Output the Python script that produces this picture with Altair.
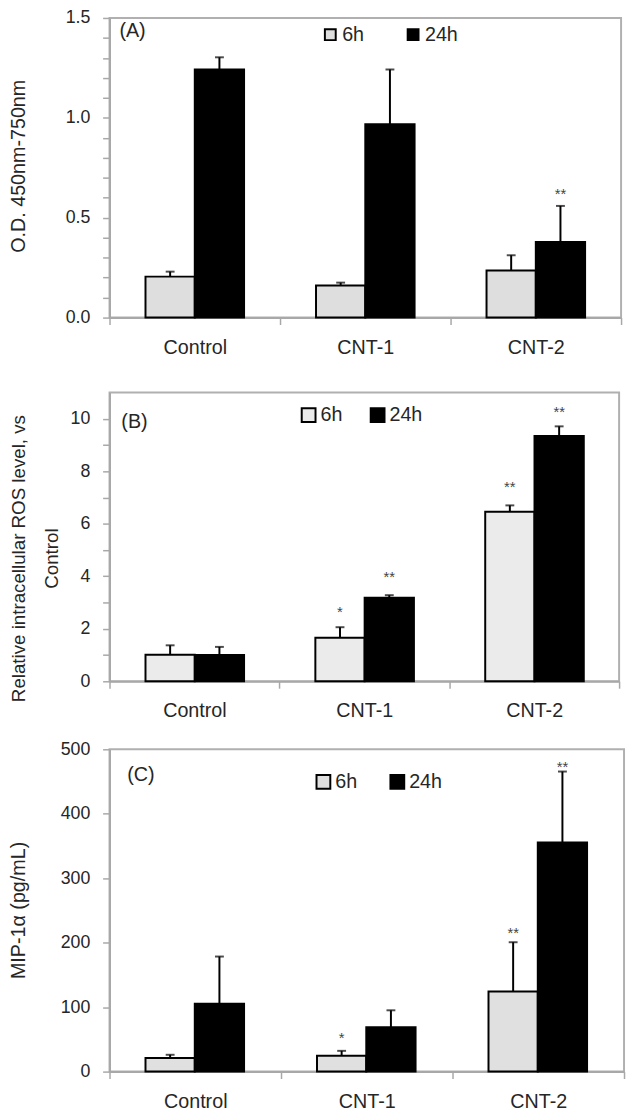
import altair as alt
import pandas as pd

categories = ["Control", "CNT-1", "CNT-2"]
series = ["6h", "24h"]

# Panel A: O.D. 450nm-750nm
a_mean_6h = [0.205, 0.161, 0.236]
a_mean_24h = [1.242, 0.968, 0.379]
a_sd_6h = [0.025, 0.014, 0.076]
a_sd_24h = [0.061, 0.274, 0.180]
a_star_6h = ["", "", ""]
a_star_24h = ["", "", "**"]
a_star_y_6h = [None, None, None]
a_star_y_24h = [None, None, 0.637]

# Panel B: relative intracellular ROS level
b_mean_6h = [1.01, 1.66, 6.46]
b_mean_24h = [1.00, 3.18, 9.34]
b_sd_6h = [0.36, 0.40, 0.24]
b_sd_24h = [0.31, 0.10, 0.37]
b_star_6h = ["", "*", "**"]
b_star_24h = ["", "**", "**"]
b_star_y_6h = [None, 2.78, 7.55]
b_star_y_24h = [None, 4.13, 10.42]

# Panel C: MIP-1alpha (pg/mL)
c_mean_6h = [21.1, 24.6, 124.2]
c_mean_24h = [105.2, 68.9, 355.6]
c_sd_6h = [5.0, 7.6, 76.5]
c_sd_24h = [73.3, 26.2, 109.9]
c_star_6h = ["", "*", "**"]
c_star_24h = ["", "", "**"]
c_star_y_6h = [None, 58.8, 220.8]
c_star_y_24h = [None, None, 478.8]

FONT = "Liberation Sans"
TXT = "#262626"
GRAY = "#a8a8a8"


def make_df(m6, m24, s6, s24, st6, st24, sy6, sy24):
    rows = []
    for ser, m, s, st, sy in [("6h", m6, s6, st6, sy6), ("24h", m24, s24, st24, sy24)]:
        for i, cat in enumerate(categories):
            rows.append({"cat": cat, "series": ser, "mean": m[i], "top": m[i] + s[i],
                         "star": st[i], "star_y": sy[i]})
    return pd.DataFrame(rows)


def panel(df, letter, width, height, ydomain, tick_vals, label_step, fmt, ytitle,
          title_y, title_size, fill6, leg_x, leg_y, sym_size, col_pad, let_x, let_y):
    x_enc = alt.X("cat:N", sort=categories, title=None,
                  scale=alt.Scale(paddingInner=0, paddingOuter=0),
                  axis=alt.Axis(labelAngle=0, tickBand="extent", tickSize=7,
                                tickColor=GRAY, tickWidth=1.5, domainColor=GRAY,
                                domainWidth=2, labelFontSize=20, labelPadding=13,
                                labelColor=TXT, labelFont=FONT))
    xo_enc = alt.XOffset("series:N", sort=series,
                         scale=alt.Scale(paddingInner=0, paddingOuter=0.73))
    y_scale = alt.Scale(domain=ydomain, nice=False, zero=True)
    label_expr = (f"abs(datum.value/{label_step} - round(datum.value/{label_step})) < 0.001"
                  f" ? format(datum.value, '{fmt}') : ''")
    y_axis = alt.Axis(title=ytitle, values=tick_vals, labelExpr=label_expr, grid=False,
                      tickSize=7, tickColor=GRAY, tickWidth=1.5, domainColor=GRAY,
                      domainWidth=2, labelFontSize=18, labelPadding=13, labelColor=TXT,
                      labelFont=FONT, titleFont=FONT, titleFontSize=title_size,
                      titleFontWeight="normal", titleColor=TXT, titleAngle=270,
                      titleAlign="center", titleBaseline="middle", titleX=-92,
                      titleY=title_y, titleLineHeight=33)
    base = alt.Chart(df).encode(x=x_enc, xOffset=xo_enc)
    bars = base.mark_bar(stroke="black", strokeWidth=2).encode(
        y=alt.Y("mean:Q", scale=y_scale, axis=y_axis),
        color=alt.Color("series:N", sort=series,
                        scale=alt.Scale(domain=series, range=[fill6, "black"]),
                        legend=alt.Legend(title=None, orient="none", legendX=leg_x,
                                          legendY=leg_y, direction="horizontal",
                                          symbolType="square", symbolSize=sym_size,
                                          symbolStrokeColor="black", symbolStrokeWidth=2,
                                          labelFontSize=20, labelFont=FONT,
                                          labelColor=TXT, labelOffset=2,
                                          columnPadding=col_pad)))
    rules = base.mark_rule(color="black", strokeWidth=2).encode(
        y=alt.Y("mean:Q", scale=y_scale, axis=y_axis), y2="top:Q")
    caps = base.mark_tick(color="black", thickness=2, size=9).encode(
        y=alt.Y("top:Q", scale=y_scale, axis=y_axis))
    sdf = df[df["star"] != ""]
    stars = alt.Chart(sdf).mark_text(fontSize=15, color="#444444", font=FONT,
                                     baseline="alphabetic", dy=9).encode(
        x=x_enc, xOffset=xo_enc,
        y=alt.Y("star_y:Q", scale=y_scale, axis=y_axis), text="star:N")
    lab = alt.Chart(pd.DataFrame({"t": [letter]})).mark_text(
        align="left", baseline="middle", fontSize=20, font=FONT, color=TXT).encode(
        x=alt.value(let_x), y=alt.value(let_y), text="t:N")
    return alt.layer(bars, rules, caps, stars, lab).properties(width=width, height=height)


dfa = make_df(a_mean_6h, a_mean_24h, a_sd_6h, a_sd_24h, a_star_6h, a_star_24h,
              a_star_y_6h, a_star_y_24h)
dfb = make_df(b_mean_6h, b_mean_24h, b_sd_6h, b_sd_24h, b_star_6h, b_star_24h,
              b_star_y_6h, b_star_y_24h)
dfc = make_df(c_mean_6h, c_mean_24h, c_sd_6h, c_sd_24h, c_star_6h, c_star_24h,
              c_star_y_6h, c_star_y_24h)

pa = panel(dfa, "(A)", 519, 304, [0, 1.5], [round(i * 0.1, 1) for i in range(16)],
           0.5, ".1f", "O.D. 450nm-750nm", 150, 20, "#dedede", 214, 7, 121, 39, 10, 13)
pb = panel(dfb, "(B)", 517, 293, [0, 11], list(range(11)), 2, "d",
           ["Relative intracellular ROS level, vs", "Control"], 168, 19, "#ebebeb",
           192, 13, 196, 24, 12, 30)
pc = panel(dfc, "(C)", 522, 327, [0, 500], [0, 100, 200, 300, 400, 500], 100, "d",
           "MIP-1α (pg/mL)", 163, 20, "#e0e0e0", 207, 23, 196, 29, 18, 26)

top_pair = (alt.vconcat(pa, pb, spacing=34)
            .resolve_scale(color="independent")
            .resolve_legend(color="independent"))

chart = (alt.vconcat(top_pair, pc, spacing=18)
         .resolve_scale(color="independent")
         .resolve_legend(color="independent")
         .configure_view(stroke="#b0b0b0", strokeWidth=2))

try:
    final = chart.properties(padding={"top": -8, "bottom": 0, "left": 0, "right": 0})
    final.to_dict()
except Exception:
    final = chart.properties(padding=0)

final.save("out.html", embed_options={"renderer": "svg", "actions": False})
